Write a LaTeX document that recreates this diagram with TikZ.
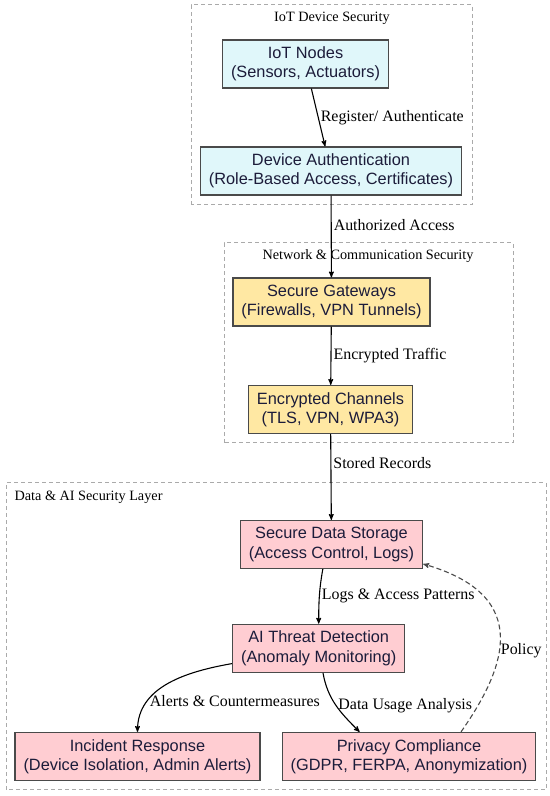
\documentclass[tikz,border=0pt]{standalone}
\usepackage{xcolor}
\usepackage{fontspec}
\setmainfont{Liberation Serif}
\setsansfont{Liberation Sans}
\usepackage{tikz}
\usetikzlibrary{arrows}
\definecolor{iotfill}{HTML}{E0F7FA}
\definecolor{netfill}{HTML}{FFE8A3}
\definecolor{datafill}{HTML}{FFCDD2}
\definecolor{boxgray}{HTML}{4A4A4A}
\definecolor{layergray}{HTML}{AAAAAA}
\definecolor{boxtext}{HTML}{1C1C3A}
\tikzset{
  main node/.style={rectangle,draw=boxgray,line width=1.2bp,align=center,text=boxtext,
	font=\sffamily\fontsize{16.4}{19.5}\selectfont,minimum height=48bp,inner xsep=8.5bp},
  iot node/.style={main node,fill=iotfill},
  net node/.style={main node,fill=netfill},
  data node/.style={main node,fill=datafill},
  layer box/.style={-,draw=layergray,dash pattern=on 4bp off 3bp,line width=1bp},
  layer title/.style={font=\fontsize{14.3}{17}\selectfont,inner sep=0pt},
  edge label/.style={font=\fontsize{16}{19}\selectfont,inner sep=2bp,text=black},
  policy line/.style={dash pattern=on 5bp off 3bp,draw=boxgray}
}
\begin{document}
\begin{tikzpicture}[x=1bp,y=1bp,->,>=stealth',line width=1.1bp]
	\useasboundingbox (0,0) rectangle (550,796);
	\draw[layer box] (191,591) rectangle (472,791);
	\node[layer title] (iottitle) at (332,778) {IoT Device Security};
	\draw[layer box] (224,353) rectangle (513,553);
	\node[layer title] (nettitle) at (368,540) {Network \& Communication Security};
	\draw[layer box] (6,6) rectangle (546,313);
	\node[layer title,anchor=west] (datatitle) at (14,299) {Data \& AI Security Layer};

	\node[iot node] (iot) at (305.5,732) {IoT Nodes\\(Sensors, Actuators)};
	\node[iot node] (auth) at (331,625) {Device Authentication\\(Role-Based Access, Certificates)};
	\node[net node] (gw) at (331.5,494) {Secure Gateways\\(Firewalls, VPN Tunnels)};
	\node[net node] (chan) at (330.5,386.5) {Encrypted Channels\\(TLS, VPN, WPA3)};
	\node[data node] (store) at (331.5,251.5) {Secure Data Storage\\(Access Control, Logs)};
	\node[data node] (detect) at (318.7,147.7) {AI Threat Detection\\(Anomaly Monitoring)};
	\node[data node] (incident) at (137.5,39.5) {Incident Response\\(Device Isolation, Admin Alerts)};
	\node[data node] (privacy) at (409,39.5) {Privacy Compliance\\(GDPR, FERPA, Anonymization)};

	\draw (iot) -- node[edge label,right] {Register/ Authenticate} (auth);
	\draw (auth) -- node[edge label,right,pos=0.36] {Authorized Access} (gw);
	\draw (gw) -- node[edge label,right] {Encrypted Traffic} (chan);
	\draw (chan) -- node[edge label,right,pos=0.34] {Stored Records} (store);
	\draw ([xshift=-8.7bp]store.south) to[out=-100,in=90]
		node[edge label,right] {Logs \& Access Patterns} (detect.north);
	\draw (detect.190) to[out=190,in=90]
		node[edge label,right,pos=0.73] {Alerts \& Countermeasures} (incident.north);
	\draw ([xshift=4.3bp]detect.south) to[out=-80,in=135]
		node[edge label,right] {Data Usage Analysis} ([xshift=-49.4bp]privacy.north);
	\draw[policy line] ([xshift=52bp]privacy.north) to[out=55,in=-16,out looseness=1.08,in looseness=1.75]
		node[edge label,right,pos=0.43,inner xsep=1bp] {Policy} ([yshift=-19.5bp]store.east);
\end{tikzpicture}
\end{document}
